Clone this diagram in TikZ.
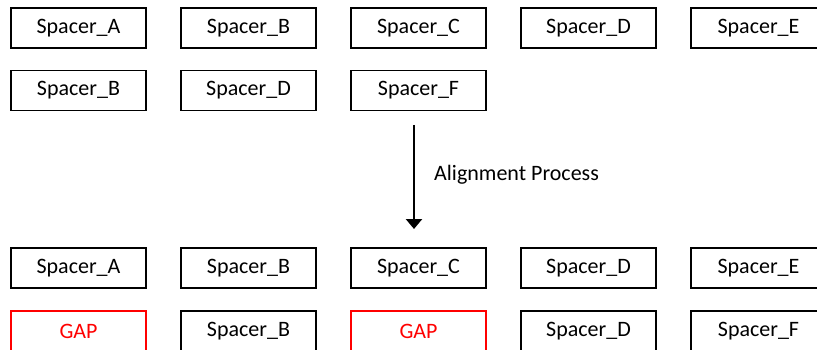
\documentclass[tikz,border=0pt]{standalone}
\usepackage{fontspec}
\setmainfont{Carlito}
\usetikzlibrary{arrows.meta}
\tikzset{
  txt/.style={font=\fontsize{22}{26}\selectfont},
  box/.style={txt, draw=black, line width=1.3pt, minimum width=135pt, minimum height=40pt, inner sep=0pt},
  gapbox/.style={box, draw=red, text=red},
  flow/.style={line width=2.6pt, -{Triangle[length=10pt,width=16pt]}}
}
\begin{document}
\begin{tikzpicture}[x=1pt,y=-1pt]
\useasboundingbox (0,0) rectangle (817,350);
% row 1
\node[box] (a1) at (78.5,28) {Spacer\_A};
\node[box] (b1) at (248.5,28) {Spacer\_B};
\node[box] (c1) at (418.5,28) {Spacer\_C};
\node[box] (d1) at (588.5,28) {Spacer\_D};
\node[box] (e1) at (758.5,28) {Spacer\_E};
% row 2
\node[box] (a2) at (78.5,90.5) {Spacer\_B};
\node[box] (b2) at (248.5,90.5) {Spacer\_D};
\node[box] (c2) at (418.5,90.5) {Spacer\_F};
% arrow
\coordinate (s) at (414,125);
\coordinate (t) at (414,229);
\draw[flow] (s) -- (t);
\node[txt, anchor=west, inner sep=0pt] (lbl) at (434,175) {Alignment Process};
% row 3
\node[box] (a3) at (78.5,268) {Spacer\_A};
\node[box] (b3) at (248.5,268) {Spacer\_B};
\node[box] (c3) at (418.5,268) {Spacer\_C};
\node[box] (d3) at (588.5,268) {Spacer\_D};
\node[box] (e3) at (758.5,268) {Spacer\_E};
% row 4
\node[gapbox] (a4) at (78.5,331) {GAP};
\node[box] (b4) at (248.5,331) {Spacer\_B};
\node[gapbox] (c4) at (418.5,331) {GAP};
\node[box] (d4) at (588.5,331) {Spacer\_D};
\node[box] (e4) at (758.5,331) {Spacer\_F};
\end{tikzpicture}
\end{document}
